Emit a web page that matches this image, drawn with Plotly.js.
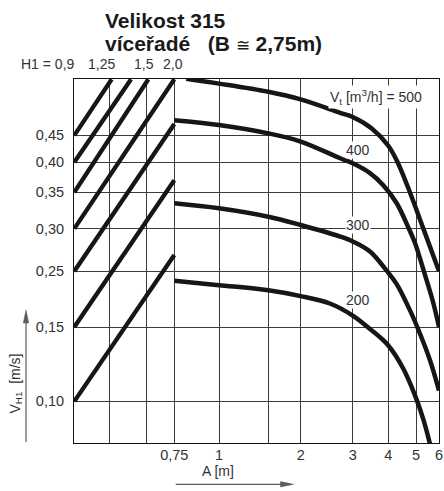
<!DOCTYPE html>
<html>
<head>
<meta charset="utf-8">
<script src="https://cdn.plot.ly/plotly-3.0.1.min.js"></script>
<style>html,body{margin:0;padding:0;background:#fff;}#chart{width:444px;height:491px;}</style>
</head>
<body>
<div id="chart"></div>
<script>
// ---------------- DATA ----------------
// Right part: A [m] (x) vs V_H1 [m/s] (y), one curve per Vt [m3/h]
const A_TICKS = [0.75, 1, 1.5, 2, 3, 4, 5, 6];
const A_LABELS = ["0,75", "1", "", "2", "3", "4", "5", "6"];
const V_TICKS = [0.10, 0.15, 0.25, 0.30, 0.35, 0.40, 0.45];
const V_LABELS = ["0,10", "0,15", "0,25", "0,30", "0,35", "0,40", "0,45"];
// Left part: H1 scale (top labels)
const H1_TICKS = [0.9, 1.25, 1.5, 2.0];
const H1_LABELS = ["H1 = 0,9", "1,25", "1,5", "2,0"];

const VT_NAMES = ["500", "400", "300", "200"];
const VT500_A = [0.81, 1, 1.5, 2, 2.72, 3, 3.5, 4, 4.31, 4.76, 5.3, 6];
const VT500_V = [0.577, 0.565, 0.545, 0.527, 0.497, 0.488, 0.464, 0.43, 0.40, 0.35, 0.30, 0.25];
const VT400_A = [0.75, 1, 1.5, 2, 2.72, 3, 3.45, 3.84, 4.28, 4.72, 4.96, 5.32, 5.72, 6];
const VT400_V = [0.481, 0.471, 0.454, 0.438, 0.407, 0.398, 0.381, 0.361, 0.334, 0.30, 0.282, 0.25, 0.189, 0.15];
const VT300_A = [0.75, 1, 1.5, 2, 2.72, 3, 3.45, 3.96, 4.28, 4.76, 5.05, 5.59, 6];
const VT300_V = [0.334, 0.327, 0.3155, 0.3046, 0.290, 0.284, 0.272, 0.25, 0.222, 0.175, 0.15, 0.125, 0.106];
const VT200_A = [0.75, 1, 1.5, 2, 2.51, 3, 3.45, 4, 4.51, 4.96, 5.30, 5.63];
const VT200_V = [0.229, 0.220, 0.210, 0.199, 0.186, 0.1666, 0.1484, 0.1356, 0.1196, 0.1033, 0.0906, 0.0775];

// Diagonal H1 lines in the left part: start at H1 = 0,9, end at top or at H1 = 2,0
const DIAG_START_H1 = [0.9, 0.9, 0.9, 0.9, 0.9, 0.9, 0.9];
const DIAG_START_V = [0.45, 0.40, 0.35, 0.30, 0.25, 0.15, 0.10];
const DIAG_END_H1 = [1.266, 1.398, 1.541, 2.0, 2.0, 2.0, 2.0];
const DIAG_END_V = [0.576, 0.576, 0.576, 0.576, 0.473, 0.369, 0.268];

// ---------------- SCALE (layout: where each gridline sits) ----------------
const PLOT_L = 74, PLOT_T = 79, PLOT_W = 365, PLOT_H = 364;
const A_PX = [174.3, 219, 268.3, 300.7, 352.7, 388.3, 416, 439];
const V_PX = [401.3, 327, 271.2, 228.6, 192.2, 162.2, 135.4];
const H1_PX = [74.3, 109.3, 146, 174.3];

function seg(v, vals) {
  const n = vals.length;
  if (v <= vals[0]) return 0;
  if (v >= vals[n - 1]) return n - 2;
  let i = 0;
  while (v > vals[i + 1]) i++;
  return i;
}
function interpLog(v, vals, pos) {
  const i = seg(v, vals);
  const a = Math.log(vals[i]), b = Math.log(vals[i + 1]);
  return pos[i] + (Math.log(v) - a) / (b - a) * (pos[i + 1] - pos[i]);
}
function interpLin(v, vals, pos) {
  const i = seg(v, vals);
  return pos[i] + (v - vals[i]) / (vals[i + 1] - vals[i]) * (pos[i + 1] - pos[i]);
}
const xA = a => interpLog(a, A_TICKS, A_PX) - PLOT_L;
const xH = h => interpLin(h, H1_TICKS, H1_PX) - PLOT_L;
const yV = v => (PLOT_T + PLOT_H) - interpLog(v, V_TICKS, V_PX);
const px = p => (p - PLOT_L) / PLOT_W;           // page px -> paper x
const py = p => (PLOT_T + PLOT_H - p) / PLOT_H;  // page px -> paper y

const FONT = '"Liberation Sans", Arial, Helvetica, sans-serif';
const TXT = '#333333';
const INK = '#161616';

// ---------------- TRACES ----------------
const traces = [];
for (let k = 0; k < DIAG_START_V.length; k++) {
  traces.push({
    type: 'scatter', mode: 'lines', hoverinfo: 'skip',
    x: [xH(DIAG_START_H1[k]), xH(DIAG_END_H1[k])],
    y: [yV(DIAG_START_V[k]), yV(DIAG_END_V[k])],
    line: {color: INK, width: 4.3}
  });
}
const curvesA = [VT500_A, VT400_A, VT300_A, VT200_A];
const curvesV = [VT500_V, VT400_V, VT300_V, VT200_V];
for (let k = 0; k < curvesA.length; k++) {
  traces.push({
    type: 'scatter', mode: 'lines', name: VT_NAMES[k], hoverinfo: 'skip',
    x: curvesA[k].map(xA), y: curvesV[k].map(yV),
    line: {color: INK, width: 4.5, shape: 'spline', smoothing: 1}
  });
}

// ---------------- AXES ----------------
const xTickVals = [xH(H1_TICKS[1]), xH(H1_TICKS[2])].concat(A_TICKS.map(xA));
const xTickText = ["", ""].concat(A_LABELS);
const yTickVals = V_TICKS.map(yV);

const annotations = [
  {text: '<b>Velikost 315</b>', x: px(103), y: py(21), xanchor: 'left', yanchor: 'middle',
   font: {family: FONT, size: 21, color: '#1a1a1a'}},
  {text: '<b>víceřadé\u00a0\u00a0\u00a0(B <span style="font-weight:normal;font-size:17px">≅</span> 2,75m)</b>',
   x: px(103), y: py(44), xanchor: 'left', yanchor: 'middle',
   font: {family: FONT, size: 21, color: '#1a1a1a'}},
  {text: H1_LABELS[0], x: px(77), y: py(64.5), xanchor: 'right', yanchor: 'middle'},
  {text: H1_LABELS[1], x: px(101.5), y: py(64.5), xanchor: 'center', yanchor: 'middle'},
  {text: H1_LABELS[2], x: px(144), y: py(64.5), xanchor: 'center', yanchor: 'middle'},
  {text: H1_LABELS[3], x: px(173), y: py(64.5), xanchor: 'center', yanchor: 'middle'},
  {text: 'V<sub>t</sub> [m<sup>3</sup>/h] = ' + VT_NAMES[0], x: px(424), y: py(97), xanchor: 'right', yanchor: 'middle', bgcolor: '#ffffff'},
  {text: VT_NAMES[1], x: px(358.3), y: py(150), xanchor: 'center', yanchor: 'middle', bgcolor: '#ffffff', borderpad: 0},
  {text: VT_NAMES[2], x: px(358), y: py(225), xanchor: 'center', yanchor: 'middle', bgcolor: '#ffffff', borderpad: 0},
  {text: VT_NAMES[3], x: px(358.3), y: py(300), xanchor: 'center', yanchor: 'middle', bgcolor: '#ffffff', borderpad: 0},
  {text: 'V<sub>H1</sub>\u00a0\u00a0[m/s]', x: px(15.5), y: py(384), xanchor: 'center', yanchor: 'middle', textangle: -90},
  {text: 'A [m]', x: px(217.5), y: py(470.5), xanchor: 'center', yanchor: 'middle', borderpad: 0}
].map(a => Object.assign({xref: 'paper', yref: 'paper', showarrow: false,
  font: {family: FONT, size: 14, color: TXT}, borderpad: 1}, a));

const ARROW = '#5a5a5a';
const shapes = [
  {type: 'line', xref: 'paper', yref: 'paper', x0: px(26), y0: py(442), x1: px(26), y1: py(320),
   line: {color: ARROW, width: 1.2}},
  {type: 'path', xref: 'paper', yref: 'paper',
   path: `M ${px(26)} ${py(310)} L ${px(23.3)} ${py(323)} L ${px(28.7)} ${py(323)} Z`,
   fillcolor: ARROW, line: {color: ARROW, width: 0.5}},
  {type: 'line', xref: 'paper', yref: 'paper', x0: px(175.7), y0: py(484.3), x1: px(283), y1: py(484.3),
   line: {color: ARROW, width: 1.2}},
  {type: 'path', xref: 'paper', yref: 'paper',
   path: `M ${px(293.5)} ${py(484.3)} L ${px(280.5)} ${py(481.6)} L ${px(280.5)} ${py(487)} Z`,
   fillcolor: ARROW, line: {color: ARROW, width: 0.5}}
];

const axisCommon = {
  showgrid: true, gridcolor: '#3c3c3c', gridwidth: 1, zeroline: false,
  showline: true, mirror: true, linecolor: '#111111', linewidth: 1,
  ticks: '', tickmode: 'array', fixedrange: true,
  tickfont: {family: FONT, size: 14.5, color: TXT}
};

const layout = {
  width: 444, height: 491,
  margin: {l: PLOT_L, r: 444 - PLOT_L - PLOT_W, t: PLOT_T, b: 491 - PLOT_T - PLOT_H, pad: 0},
  paper_bgcolor: '#ffffff', plot_bgcolor: '#ffffff',
  showlegend: false,
  xaxis: Object.assign({}, axisCommon, {range: [0, PLOT_W], tickvals: xTickVals, ticktext: xTickText,
    ticklabelstandoff: -1}),
  yaxis: Object.assign({}, axisCommon, {range: [0, PLOT_H], tickvals: yTickVals, ticktext: V_LABELS,
    ticklabelstandoff: 6}),
  annotations: annotations,
  shapes: shapes
};

Plotly.newPlot('chart', traces, layout, {staticPlot: true, displayModeBar: false});
</script>
</body>
</html>
